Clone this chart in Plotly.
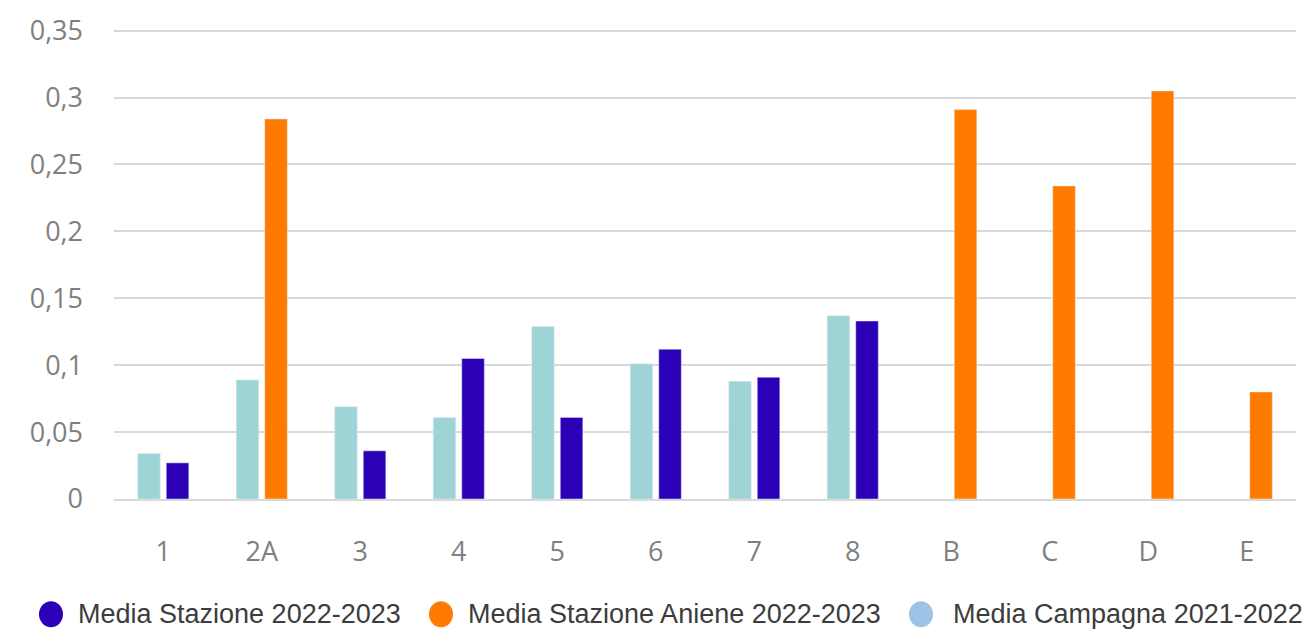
import plotly.graph_objects as go

# Stations along the sampling route
stations = ["1", "2A", "3", "4", "5", "6", "7", "8", "B", "C", "D", "E"]

# Mean values per station
campagna_2021_2022 = [0.034, 0.089, 0.069, 0.061, 0.129, 0.101, 0.088, 0.137,
                      None, None, None, None]
stazione_2022_2023 = [0.027, None, 0.036, 0.105, 0.061, 0.112, 0.091, 0.133,
                      None, None, None, None]
aniene_2022_2023 = [None, 0.284, None, None, None, None, None, None,
                    0.291, 0.234, 0.305, 0.080]

legend_labels = ["Media Stazione 2022-2023",
                 "Media Stazione Aniene 2022-2023",
                 "Media Campagna 2021-2022"]

C_TEAL = "#9fd4d6"
C_BLUE = "#2c00b6"
C_ORANGE = "#ff7b00"
C_LEGEND_LIGHT = "#9dc3e6"

fig = go.Figure()
fig.add_trace(go.Bar(x=stations, y=campagna_2021_2022, name=legend_labels[2],
                     marker_color=C_TEAL, offsetgroup="prev", showlegend=False))
fig.add_trace(go.Bar(x=stations, y=stazione_2022_2023, name=legend_labels[0],
                     marker_color=C_BLUE, offsetgroup="cur", showlegend=False))
fig.add_trace(go.Bar(x=stations, y=aniene_2022_2023, name=legend_labels[1],
                     marker_color=C_ORANGE, offsetgroup="cur", showlegend=False))

L, R, T, B = 114, 11, 25, 139
W, H = 1307, 638
pw, ph = W - L - R, H - T - B


def px_x(px):
    return (px - L) / pw


def px_y(py):
    return (H - B - py) / ph


# Custom legend with round swatches below the plot
legend_y = px_y(615)
swatches = [(51, 76, C_BLUE), (441, 466, C_ORANGE), (921, 951, C_LEGEND_LIGHT)]
shapes = []
annotations = []
for (cx, tx, col), label in zip(swatches, legend_labels):
    shapes.append(dict(type="circle", xref="paper", yref="paper",
                       xsizemode="pixel", ysizemode="pixel",
                       xanchor=px_x(cx), yanchor=legend_y,
                       x0=-12, x1=12, y0=-13, y1=13,
                       fillcolor=col, line_width=0))
    annotations.append(dict(text=label, xref="paper", yref="paper",
                            x=px_x(tx), y=legend_y, xanchor="left", yanchor="middle",
                            showarrow=False,
                            font=dict(family="Liberation Sans", size=27, color="#3c3c3c")))

tick_font = dict(family="Open Sans", size=27, color="#808080")

fig.update_layout(
    width=W, height=H,
    margin=dict(l=L, r=R, t=T, b=B),
    paper_bgcolor="white", plot_bgcolor="white",
    barmode="group", bargap=0.42, bargroupgap=0.21,
    separators=", ",
    shapes=shapes, annotations=annotations,
    showlegend=False,
)
fig.update_yaxes(range=[0, 0.352], tickvals=[0, 0.05, 0.1, 0.15, 0.2, 0.25, 0.3, 0.35],
                 showgrid=True, gridcolor="#d9d9d9",
                 gridwidth=1.5, zeroline=False, showline=False, tickfont=tick_font,
                 ticklabelstandoff=30)
fig.update_xaxes(showgrid=False, showline=True, linecolor="#d9d9d9", linewidth=1.5,
                 tickfont=tick_font, ticklabelstandoff=28)

fig.write_html("out.html")
